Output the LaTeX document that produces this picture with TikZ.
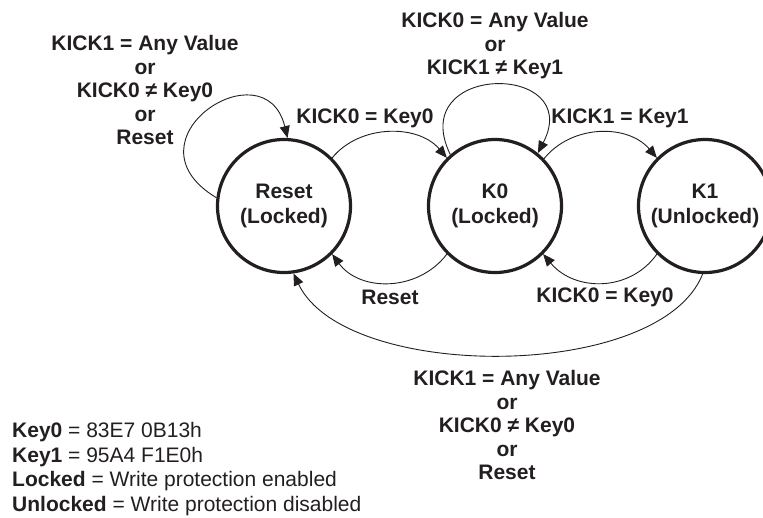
\documentclass[tikz,border=0pt]{standalone}
\usepackage{fontspec}
\setmainfont{Liberation Sans}
\usetikzlibrary{arrows.meta}
\definecolor{ink}{RGB}{35,31,32}
\begin{document}
\begin{tikzpicture}[x=1pt,y=-1pt,
  state/.style={circle,draw=ink,line width=3.2pt,minimum size=133pt,inner sep=0pt,align=center,
    font=\bfseries\fontsize{21}{25}\selectfont,text=ink},
  lbl/.style={align=center,font=\bfseries\fontsize{21}{23.5}\selectfont,text=ink,inner sep=0pt},
  trans/.style={draw=ink,line width=0.9pt,-{Triangle[length=12pt,width=10pt]}},
  legend/.style={align=left,anchor=west,font=\fontsize{21}{24.5}\selectfont,text=ink,inner sep=0pt}]
\useasboundingbox (0,0) rectangle (763,517);
\node[state] (R)  at (284,206) {Reset\\(Locked)};
\node[state] (K0) at (495,206) {K0\\(Locked)};
\node[state] (K1) at (705,206) {K1\\(Unlocked)};
% Reset self loop
\draw[trans] (R.173) .. controls (120,140) and (265,45) .. (R.87);
% Reset -> K0
\draw[trans] (R.45) .. controls (360,124) and (418,124) .. (K0.135);
% K0 self loop
\draw[trans] (K0.131) .. controls (405,62) and (585,62) .. (K0.51);
% K0 -> K1
\draw[trans] (K0.44) .. controls (572,124) and (628,124) .. (K1.135);
% K1 -> K0
\draw[trans] (K1.225) .. controls (630,292) and (575,292) .. (K0.315);
% K0 -> Reset
\draw[trans] (K0.225) .. controls (418,292) and (360,292) .. (R.315);
% K1 -> Reset big
\draw[trans] (K1.268) .. controls (660,382) and (345,382) .. (R.278);
% labels
\node[lbl] (l1) at (145,90) {KICK1 = Any Value\\or\\KICK0 ≠ Key0\\or\\Reset};
\node[lbl] (l2) at (495,46) {KICK0 = Any Value\\or\\KICK1 ≠ Key1};
\node[lbl] (l3) at (365,118) {KICK0 = Key0};
\node[lbl] (l4) at (620,118) {KICK1 = Key1};
\node[lbl] (l5) at (390,297) {Reset};
\node[lbl] (l6) at (605,297) {KICK0 = Key0};
\node[lbl] (l7) at (507,425) {KICK1 = Any Value\\or\\KICK0 ≠ Key0\\or\\Reset};
\node[legend] (lg) at (12,469) {\textbf{Key0} = 83E7 0B13h\\\textbf{Key1} = 95A4 F1E0h\\\textbf{Locked} = Write protection enabled\\\textbf{Unlocked} = Write protection disabled};
\end{tikzpicture}
\end{document}
